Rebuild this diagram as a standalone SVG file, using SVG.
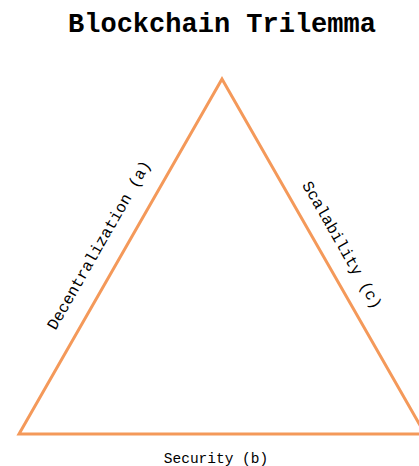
<svg xmlns="http://www.w3.org/2000/svg" width="419" height="466" viewBox="0 0 419 466">
<style>
.t{font-family:"Liberation Mono","DejaVu Sans Mono",monospace;fill:#000}
.title{font-size:27px;font-weight:bold}
.lbl{font-size:16px}
.edge{fill:none;stroke:#f4995a;stroke-width:3;stroke-linejoin:miter}
</style>
<rect width="419" height="466" fill="#fff"/>
<text class="t title" x="222" y="32" text-anchor="middle">Blockchain Trilemma</text>
<g id="connectors">
<polygon class="edge" points="222,79 19,434 425,434"/>
</g>
<g id="label-a"><text class="t lbl" text-anchor="middle" transform="translate(99,245) rotate(-60.2)" y="5">Decentralization (a)</text></g>
<g id="label-c"><text class="t lbl" text-anchor="middle" transform="translate(342,245) rotate(60.2)" y="5">Scalability (c)</text></g>
<g id="label-b"><text class="t lbl" x="216" y="463" text-anchor="middle" style="font-size:14.5px">Security (b)</text></g>
</svg>
